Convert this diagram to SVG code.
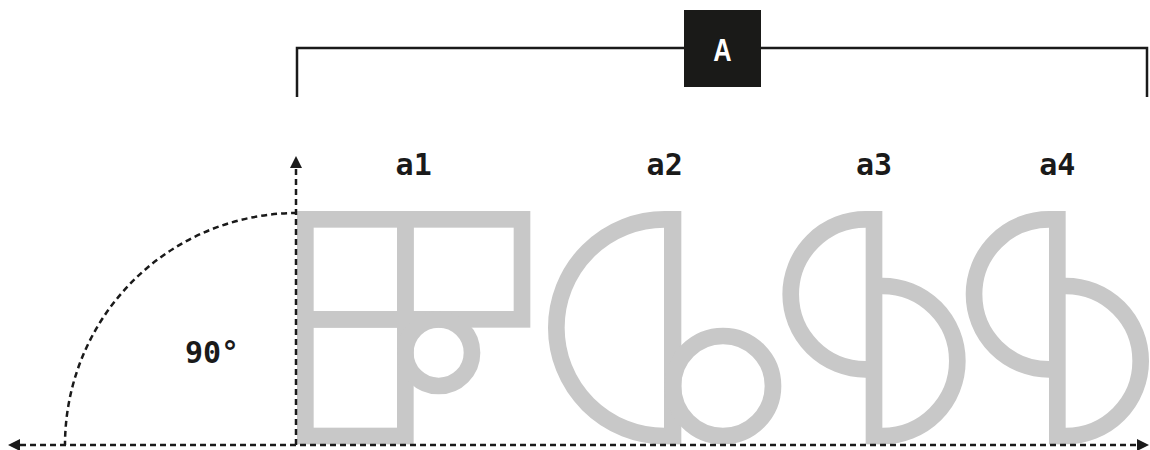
<svg xmlns="http://www.w3.org/2000/svg" width="1150" height="450" viewBox="0 0 1150 450">
  <style>
    .g { fill: none; stroke: #c8c8c8; stroke-width: 16.67; }
    .gf { fill: #c8c8c8; stroke: none; }
    .lbl { font-family: "DejaVu Sans Mono", "Liberation Mono", monospace; font-weight: bold; font-size: 30px; fill: #1a1a1a; text-anchor: middle; }
    .dash { fill: none; stroke: #1a1a1a; stroke-width: 2.5; stroke-dasharray: 6 4; }
    .brk { fill: none; stroke: #1a1a1a; stroke-width: 2.5; }
  </style>
  <defs>
    <marker id="arrow" markerUnits="userSpaceOnUse" markerWidth="12" markerHeight="12" viewBox="0 0 12 12" refX="0" refY="6" orient="auto-start-reverse">
      <path d="M0,0 L12,6 L0,12 z" fill="#1a1a1a"/>
    </marker>
  </defs>
  <rect width="1150" height="450" fill="#ffffff"/>

  <g id="bracket-A">
    <path class="brk" d="M297,97 V48 H1147 V97"/>
    <rect x="684" y="10" width="77" height="77" fill="#1a1a18"/>
    <g transform="translate(722.5,60.5) scale(0.82,1)">
      <text x="0" y="0" font-family="'Liberation Sans', Arial, sans-serif" font-weight="bold" font-size="31" fill="#ffffff" text-anchor="middle">A</text>
    </g>
  </g>

  <g id="a1">
    <rect class="g" x="305.33" y="219.33" width="100" height="100"/>
    <rect class="g" x="405.33" y="219.33" width="116.67" height="100"/>
    <rect class="g" x="305.33" y="319.33" width="100" height="116.67"/>
    <circle class="g" cx="438.67" cy="352.67" r="33.33"/>
    <text class="lbl" x="413.67" y="175">a1</text>
  </g>

  <g id="a2">
    <path class="g" d="M665.67,219.33 L664.67,219.33 A108.33,108.33 0 0 0 664.67,436 L665.67,436"/>
    <rect class="gf" x="664" y="211" width="17.33" height="233.33"/>
    <circle class="g" cx="723" cy="386" r="50"/>
    <text class="lbl" x="664.67" y="175">a2</text>
  </g>

  <g id="a3">
    <path class="g" d="M866.67,219.33 L865.67,219.33 A75,75 0 0 0 865.67,369.33 L866.67,369.33"/>
    <rect class="gf" x="865.67" y="211" width="16.67" height="233.33"/>
    <path class="g" d="M881.33,286 L882.33,286 A75,75 0 0 1 882.33,436 L881.33,436"/>
    <text class="lbl" x="874" y="175">a3</text>
  </g>

  <g id="a4">
    <path class="g" d="M1050,219.33 L1049,219.33 A75,75 0 0 0 1049,369.33 L1050,369.33"/>
    <rect class="gf" x="1049" y="211" width="16.67" height="233.33"/>
    <path class="g" d="M1064.67,286 L1065.67,286 A75,75 0 0 1 1065.67,436 L1064.67,436"/>
    <text class="lbl" x="1057.33" y="175">a4</text>
  </g>

  <g id="angle-label">
    <text class="lbl" x="212" y="363">90°</text>
  </g>

  <g id="connectors">
    <path class="dash" d="M297,213 A232,232 0 0 0 65,445"/>
    <path class="dash" d="M296,445 V168" marker-end="url(#arrow)"/>
    <path class="dash" d="M20,445 H1137" marker-start="url(#arrow)" marker-end="url(#arrow)"/>
  </g>
</svg>
